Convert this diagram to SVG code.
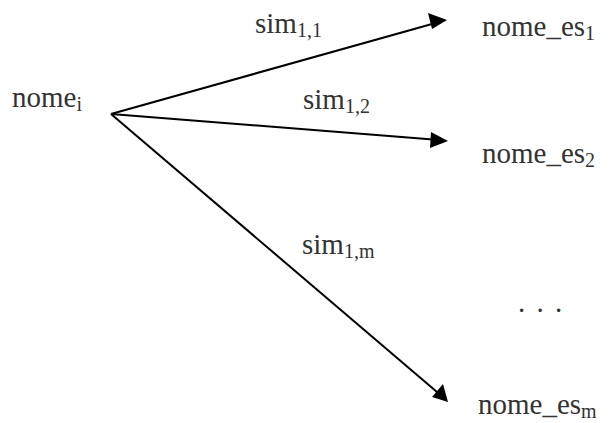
<svg xmlns="http://www.w3.org/2000/svg" width="611" height="423" viewBox="0 0 611 423">
<defs>
<style>
text{font-family:"Liberation Serif","Times New Roman",serif;font-size:29px;fill:#333}
.sub{font-size:20px}
.dots{letter-spacing:2px}
</style>
</defs>
<rect width="611" height="423" fill="#fff"/>
<g id="connectors">
<line x1="111" y1="114" x2="432" y2="24" stroke="#000" stroke-width="2"/>
<polygon points="447,20 428,13 432,29" fill="#000"/>
<line x1="111" y1="114" x2="433" y2="139.5" stroke="#000" stroke-width="2"/>
<polygon points="448,141 431,132 430,148" fill="#000"/>
<line x1="111" y1="114" x2="437" y2="392" stroke="#000" stroke-width="2"/>
<polygon points="448,402 443,384 432,397" fill="#000"/>
</g>
<g id="node-nome-i"><text x="12" y="107">nome<tspan class="sub" dy="4">i</tspan></text></g>
<g id="label-sim11"><text x="255" y="33">sim<tspan class="sub" dy="4">1,1</tspan></text></g>
<g id="label-sim12"><text x="303" y="109">sim<tspan class="sub" dy="4">1,2</tspan></text></g>
<g id="label-sim1m"><text x="302" y="254">sim<tspan class="sub" dy="4">1,m</tspan></text></g>
<g id="node-nome-es1"><text x="482" y="36">nome_es<tspan class="sub" dy="4">1</tspan></text></g>
<g id="node-nome-es2"><text x="482" y="163">nome_es<tspan class="sub" dy="4">2</tspan></text></g>
<g id="node-dots"><text class="dots" x="518" y="312">. . .</text></g>
<g id="node-nome-esm"><text x="478" y="414">nome_es<tspan class="sub" dy="4">m</tspan></text></g>
</svg>
